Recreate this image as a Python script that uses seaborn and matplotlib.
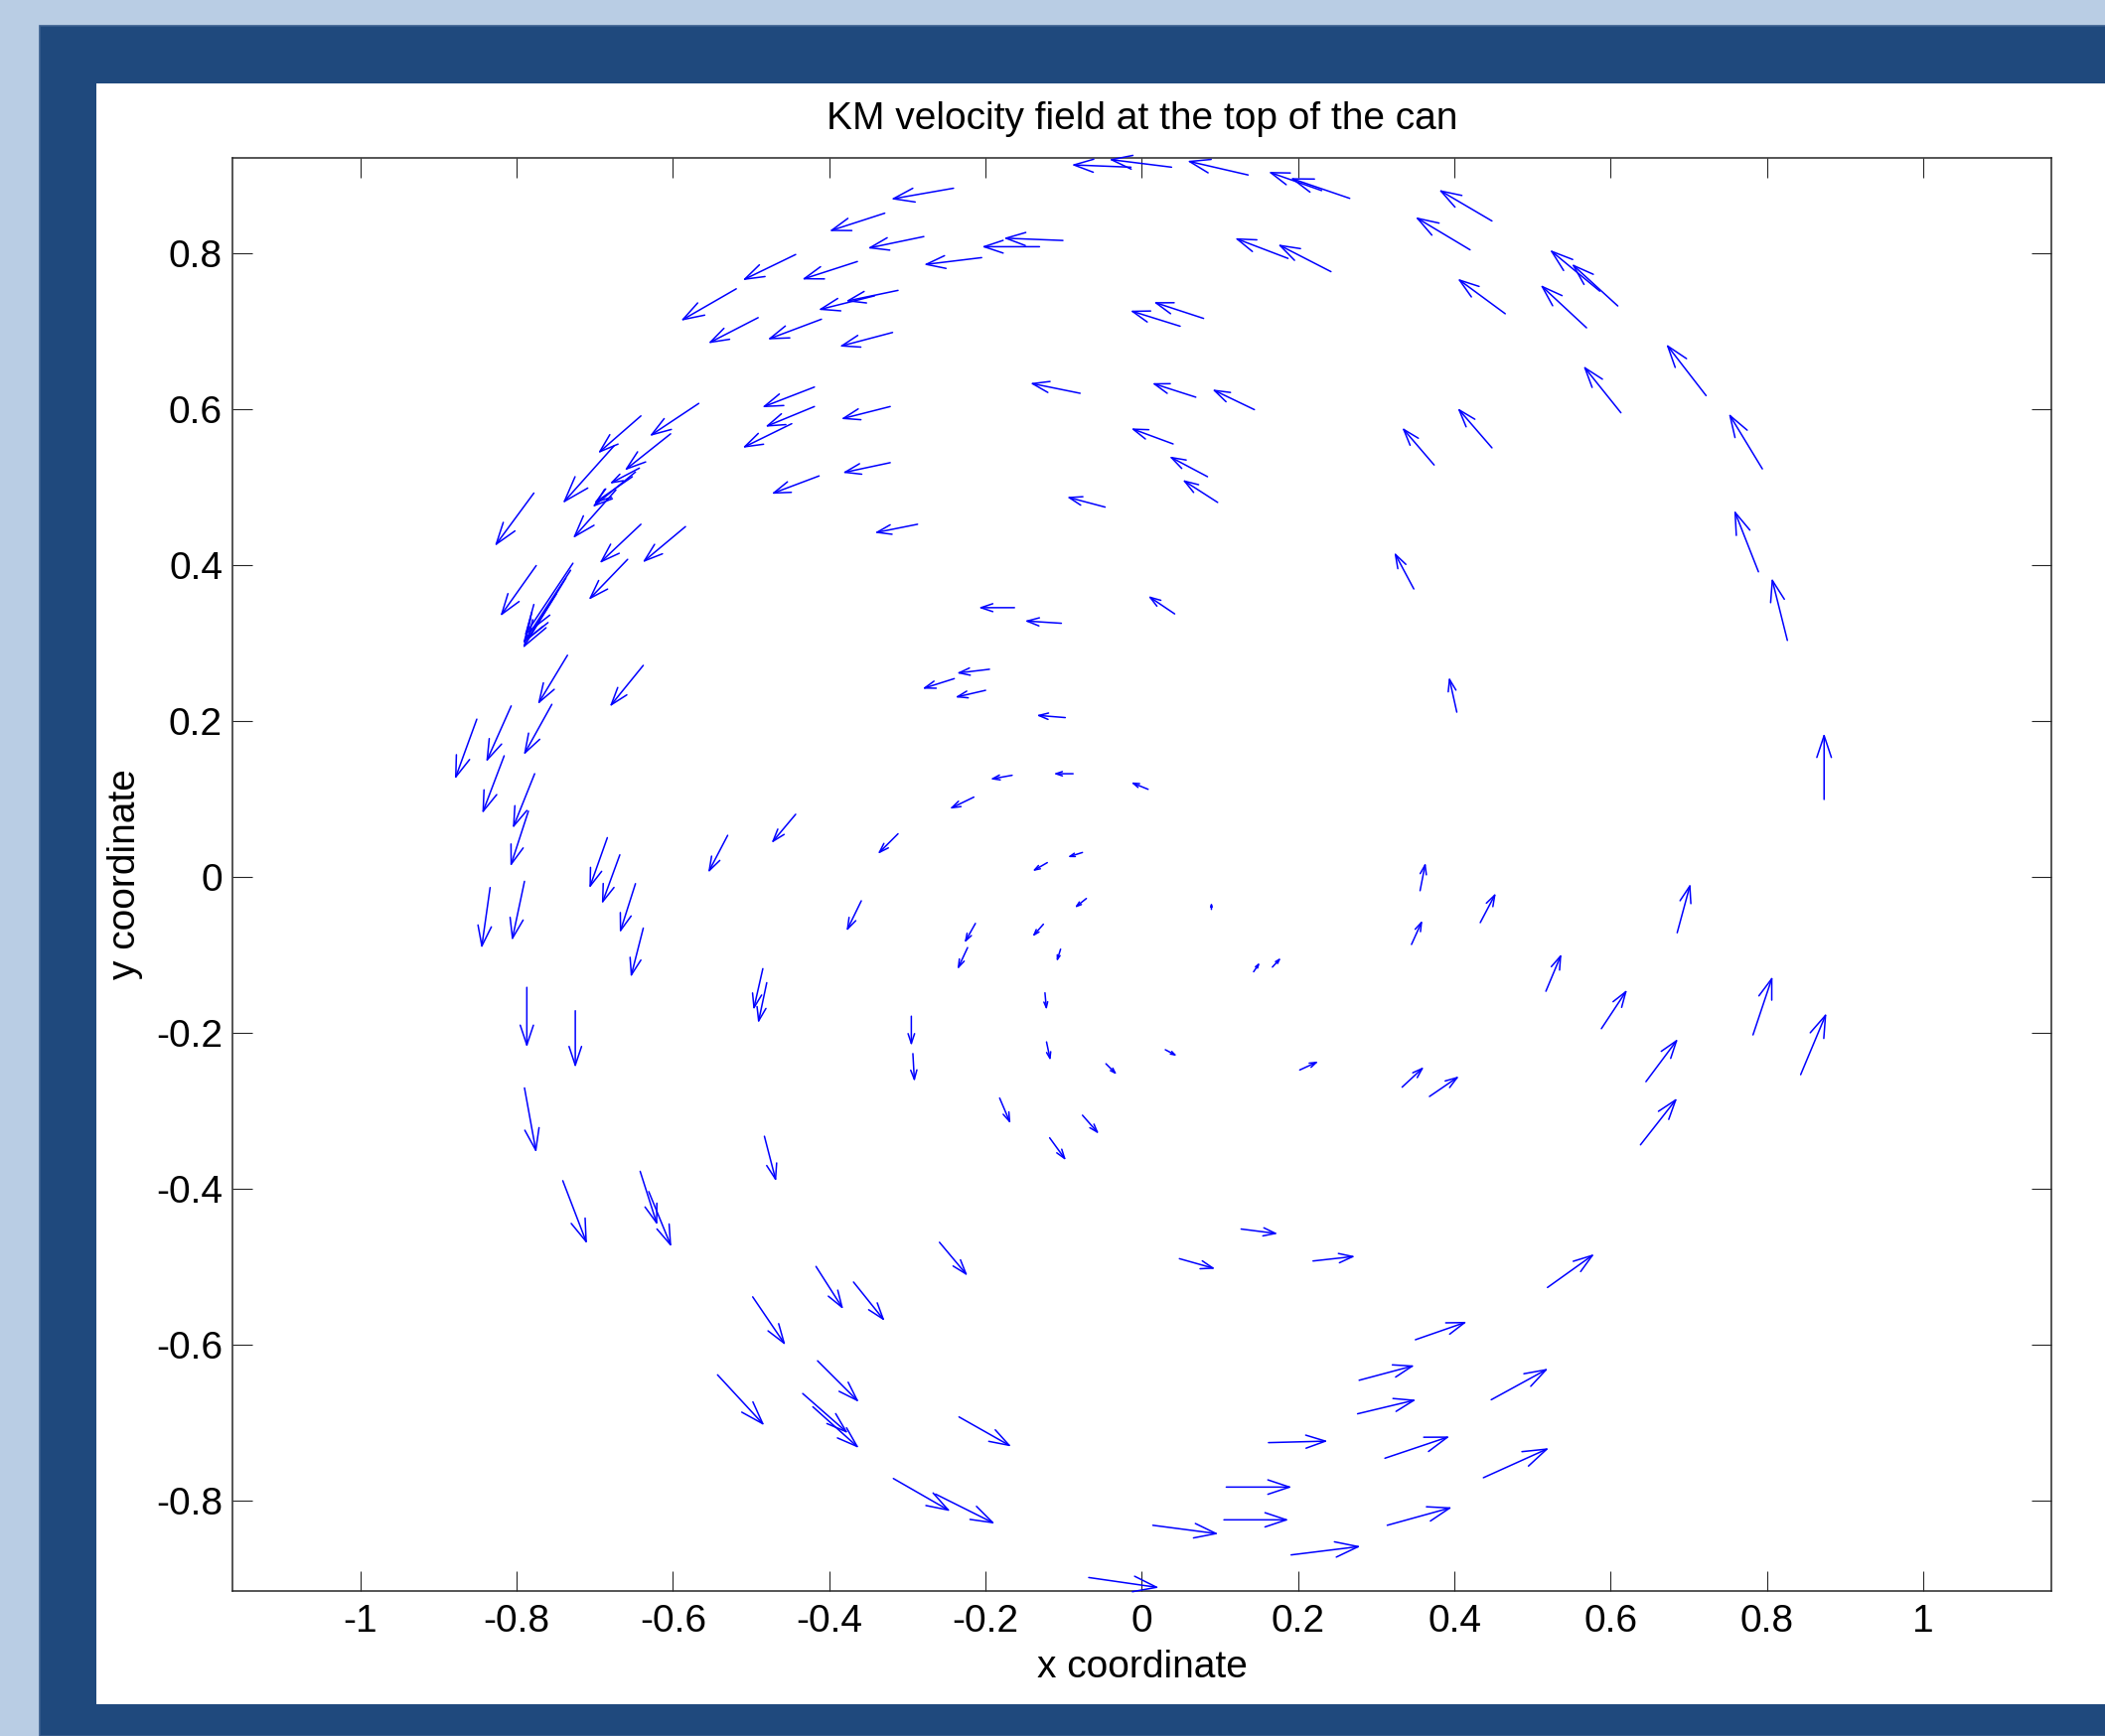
import numpy as np
import matplotlib
matplotlib.use("Agg")
import matplotlib.pyplot as plt
from matplotlib.patches import Rectangle, ArrowStyle
import seaborn as sns

# ---- data: arrow tails (x, y) and velocity components (u, v) ----
x_pos = [-0.241, -0.329, -0.279, -0.443, -0.364, -0.342, -0.312, -0.519, -0.491, -0.410,
         -0.319, -0.419, -0.419, -0.448, -0.322, -0.322, -0.413, -0.287, -0.567, -0.641,
         -0.603, -0.675, -0.643, -0.648, -0.652, -0.673, -0.778, -0.641, -0.584, -0.775,
         -0.658, -0.728, -0.731, -0.737, -0.749,
         0.038, -0.014, 0.136, 0.266, 0.230, -0.101, -0.131, -0.205, 0.187, 0.242,
         0.079, 0.049, -0.079, 0.069, 0.144, 0.040, 0.084, 0.097, -0.047, 0.042,
         -0.163, -0.103,
         0.448, 0.420, 0.465, 0.569, 0.586, 0.609, 0.613, 0.722, 0.448, 0.374,
         0.794, 0.789, 0.826, 0.348,
         -0.735, -0.638, -0.851, -0.807, -0.755, -0.816, -0.777, -0.785, -0.684, -0.668,
         -0.648, -0.638, -0.834, -0.790, -0.530, -0.443, -0.312, -0.359, -0.485, -0.480,
         -0.787, -0.725, -0.790,
         -0.195, -0.240, -0.200, -0.098, -0.166, -0.088, 0.008, -0.215, -0.076, -0.121,
         -0.071, 0.089, -0.213, -0.223, -0.126, -0.104, 0.143, 0.167, -0.124, -0.295,
         -0.293, -0.122, -0.046, 0.030, 0.202, -0.182,
         0.403, 0.873, 0.356, 0.345, 0.433, 0.685, 0.517, 0.588, 0.782, 0.843,
         0.645, 0.333, 0.368,
         -0.483, -0.741, -0.642, -0.631, -0.417, -0.369, -0.498, -0.415, -0.543, -0.434,
         -0.421, -0.318,
         -0.076, -0.118, -0.259, 0.127, 0.048, 0.219, -0.234, -0.264, 0.162, 0.108,
         0.105, 0.014, 0.191, -0.068, 0.278, 0.276,
         0.638, 0.519, 0.350, 0.447, 0.311, 0.437, 0.314]

y_pos = [0.884, 0.852, 0.822, 0.799, 0.790, 0.746, 0.753, 0.755, 0.718, 0.716,
         0.699, 0.629, 0.604, 0.582, 0.604, 0.532, 0.515, 0.453, 0.608, 0.592,
         0.569, 0.554, 0.525, 0.520, 0.514, 0.497, 0.493, 0.453, 0.450, 0.400,
         0.408, 0.403, 0.394, 0.384, 0.364,
         0.911, 0.911, 0.901, 0.871, 0.881, 0.817, 0.809, 0.795, 0.794, 0.777,
         0.717, 0.707, 0.621, 0.616, 0.600, 0.556, 0.514, 0.481, 0.475, 0.338,
         0.346, 0.326,
         0.842, 0.805, 0.723, 0.705, 0.752, 0.733, 0.596, 0.618, 0.551, 0.529,
         0.524, 0.392, 0.304, 0.370,
         0.285, 0.272, 0.203, 0.220, 0.222, 0.156, 0.133, 0.085, 0.051, 0.029,
         -0.008, -0.065, -0.013, -0.005, 0.054, 0.081, 0.056, -0.030, -0.117, -0.135,
         -0.141, -0.171, -0.270,
         0.267, 0.255, 0.240, 0.205, 0.131, 0.133, 0.113, 0.103, 0.032, 0.019,
         -0.027, -0.041, -0.059, -0.090, -0.060, -0.092, -0.121, -0.115, -0.148, -0.178,
         -0.226, -0.211, -0.239, -0.221, -0.247, -0.283,
         0.212, 0.100, -0.017, -0.086, -0.058, -0.071, -0.146, -0.194, -0.202, -0.253,
         -0.262, -0.269, -0.281,
         -0.332, -0.389, -0.377, -0.403, -0.499, -0.519, -0.538, -0.620, -0.638, -0.662,
         -0.679, -0.771,
         -0.305, -0.334, -0.468, -0.451, -0.489, -0.492, -0.692, -0.791, -0.725, -0.782,
         -0.824, -0.831, -0.869, -0.898, -0.645, -0.688,
         -0.343, -0.526, -0.593, -0.670, -0.745, -0.770, -0.831]

u_vel = [-0.080, -0.071, -0.072, -0.068, -0.071, -0.072, -0.067, -0.071, -0.064, -0.069,
         -0.068, -0.067, -0.063, -0.063, -0.063, -0.061, -0.061, -0.055, -0.063, -0.055,
         -0.059, -0.066, -0.038, -0.055, -0.049, -0.055, -0.050, -0.053, -0.055, -0.046,
         -0.050, -0.062, -0.061, -0.055, -0.038,
         -0.080, -0.076, -0.078, -0.076, -0.068, -0.076, -0.074, -0.074, -0.068, -0.068,
         -0.064, -0.064, -0.064, -0.056, -0.054, -0.054, -0.049, -0.045, -0.049, -0.034,
         -0.046, -0.047,
         -0.068, -0.070, -0.061, -0.059, -0.064, -0.059, -0.048, -0.051, -0.044, -0.041,
         -0.043, -0.031, -0.020, -0.025,
         -0.038, -0.043, -0.028, -0.032, -0.036, -0.028, -0.028, -0.023, -0.023, -0.023,
         -0.020, -0.016, -0.011, -0.016, -0.025, -0.031, -0.026, -0.019, -0.012, -0.011,
         0.000, 0.000, 0.015,
         -0.042, -0.041, -0.039, -0.037, -0.028, -0.025, -0.022, -0.031, -0.019, -0.019,
         -0.015, 0.000, -0.014, -0.013, -0.014, -0.005, 0.008, 0.011, 0.002, 0.000,
         0.002, 0.005, 0.014, 0.015, 0.024, 0.014,
         -0.010, 0.000, 0.007, 0.014, 0.020, 0.017, 0.020, 0.033, 0.025, 0.033,
         0.041, 0.028, 0.038,
         0.015, 0.031, 0.022, 0.029, 0.035, 0.040, 0.042, 0.053, 0.060, 0.058,
         0.059, 0.073,
         0.021, 0.021, 0.036, 0.047, 0.046, 0.054, 0.067, 0.076, 0.076, 0.084,
         0.083, 0.084, 0.089, 0.090, 0.071, 0.075,
         0.047, 0.060, 0.066, 0.073, 0.083, 0.084, 0.083]

v_vel = [-0.014, -0.023, -0.015, -0.033, -0.023, -0.018, -0.014, -0.041, -0.033, -0.026,
         -0.018, -0.026, -0.026, -0.031, -0.016, -0.013, -0.023, -0.011, -0.042, -0.048,
         -0.047, -0.074, -0.020, -0.045, -0.034, -0.062, -0.068, -0.050, -0.046, -0.065,
         -0.052, -0.093, -0.094, -0.090, -0.060,
         0.010, 0.003, 0.018, 0.026, 0.024, 0.003, 0.000, -0.009, 0.026, 0.035,
         0.021, 0.020, 0.013, 0.018, 0.026, 0.020, 0.026, 0.029, 0.013, 0.023,
         0.000, 0.003,
         0.040, 0.042, 0.045, 0.055, 0.053, 0.054, 0.060, 0.066, 0.051, 0.048,
         0.071, 0.079, 0.080, 0.047,
         -0.063, -0.053, -0.077, -0.072, -0.065, -0.074, -0.070, -0.071, -0.065, -0.063,
         -0.063, -0.063, -0.078, -0.076, -0.048, -0.037, -0.026, -0.039, -0.053, -0.052,
         -0.077, -0.073, -0.083,
         -0.005, -0.013, -0.009, 0.003, -0.005, 0.000, 0.009, -0.015, -0.006, -0.011,
         -0.012, 0.009, -0.025, -0.028, -0.016, -0.016, 0.012, 0.012, -0.022, -0.038,
         -0.036, -0.024, -0.014, -0.008, 0.011, -0.033,
         0.045, 0.085, 0.036, 0.031, 0.038, 0.063, 0.048, 0.050, 0.075, 0.079,
         0.055, 0.026, 0.026,
         -0.058, -0.081, -0.069, -0.071, -0.055, -0.050, -0.062, -0.053, -0.065, -0.051,
         -0.053, -0.042,
         -0.024, -0.029, -0.043, -0.006, -0.013, 0.006, -0.038, -0.038, 0.002, 0.000,
         0.000, -0.011, 0.011, -0.013, 0.019, 0.018,
         0.060, 0.043, 0.023, 0.040, 0.028, 0.038, 0.023]

x_ticks = [-1.0, -0.8, -0.6, -0.4, -0.2, 0.0, 0.2, 0.4, 0.6, 0.8, 1.0]
x_tick_labels = ['-1', '-0.8', '-0.6', '-0.4', '-0.2', '0', '0.2', '0.4', '0.6', '0.8', '1']
y_ticks = [-0.8, -0.6, -0.4, -0.2, 0.0, 0.2, 0.4, 0.6, 0.8]
y_tick_labels = ['-0.8', '-0.6', '-0.4', '-0.2', '0', '0.2', '0.4', '0.6', '0.8']
x_limits = (-1.1637, 1.1638)
y_limits = (-0.9153, 0.9229)

title_text = "KM velocity field at the top of the can"
x_label_text = "x coordinate"
y_label_text = "y coordinate"

# ---- style ----
sns.set_style("white")
plt.rcParams['font.family'] = ['Liberation Sans', 'DejaVu Sans']
plt.rcParams['axes.unicode_minus'] = False

W, H, DPI = 2119, 1748, 100
fig = plt.figure(figsize=(W / DPI, H / DPI), dpi=DPI, facecolor='#B9CDE4')

# slide-like frame: dark blue band and white panel
fig.add_artist(Rectangle((40 / W, 0), 1 - 40 / W + 0.01, (H - 26) / H,
                         transform=fig.transFigure, facecolor='#1F497D',
                         edgecolor='#3A5F8F', lw=1.2, zorder=-3))
fig.add_artist(Rectangle((97 / W, (H - 1716) / H), 1, (1716 - 84) / H,
                         transform=fig.transFigure, facecolor='white',
                         edgecolor='none', zorder=-2))

ax = fig.add_axes([234 / W, (H - 1602) / H, (2065 - 234) / W, (1602 - 159) / H])
ax.set_facecolor('white')
ax.set_xlim(*x_limits)
ax.set_ylim(*y_limits)

# quiver-like arrows with open (MATLAB style) heads, scaled with arrow length
head_style = ArrowStyle('->', head_length=0.33, head_width=0.11)
for xi, yi, ui, vi in zip(x_pos, y_pos, u_vel, v_vel):
    p0 = ax.transData.transform((xi, yi))
    p1 = ax.transData.transform((xi + ui, yi + vi))
    length_pts = max(np.hypot(*(p1 - p0)) * 72.0 / DPI, 1.0)
    ax.annotate('', xy=(xi + ui, yi + vi), xytext=(xi, yi),
                xycoords='data', textcoords='data', annotation_clip=False,
                arrowprops=dict(arrowstyle=head_style, mutation_scale=length_pts,
                                color='#0000FF', lw=1.1, shrinkA=0, shrinkB=0))

ax.set_xticks(x_ticks)
ax.set_xticklabels(x_tick_labels)
ax.set_yticks(y_ticks)
ax.set_yticklabels(y_tick_labels)
ax.tick_params(direction='in', length=14.4, width=0.8, color='#262626',
               top=True, right=True, bottom=True, left=True,
               labelsize=28, labelcolor='black')
ax.tick_params(axis='x', pad=9.4)
ax.tick_params(axis='y', pad=7.2)
for s in ax.spines.values():
    s.set_visible(True)
    s.set_linewidth(1.1)
    s.set_color('#262626')

ax.set_title(title_text, fontsize=28, pad=20.9, color='black')
ax.set_xlabel(x_label_text, fontsize=28, color='black')
ax.xaxis.set_label_coords(0.5, -0.0603)
ax.xaxis.label.set_verticalalignment('baseline')
ax.set_ylabel(y_label_text, fontsize=28, color='black')
ax.yaxis.label.set_rotation_mode('anchor')
ax.yaxis.label.set_verticalalignment('center')
ax.yaxis.label.set_horizontalalignment('center')
ax.yaxis.set_label_coords(-0.0591, 0.5)

fig.savefig('out.png', dpi=DPI, facecolor=fig.get_facecolor())
